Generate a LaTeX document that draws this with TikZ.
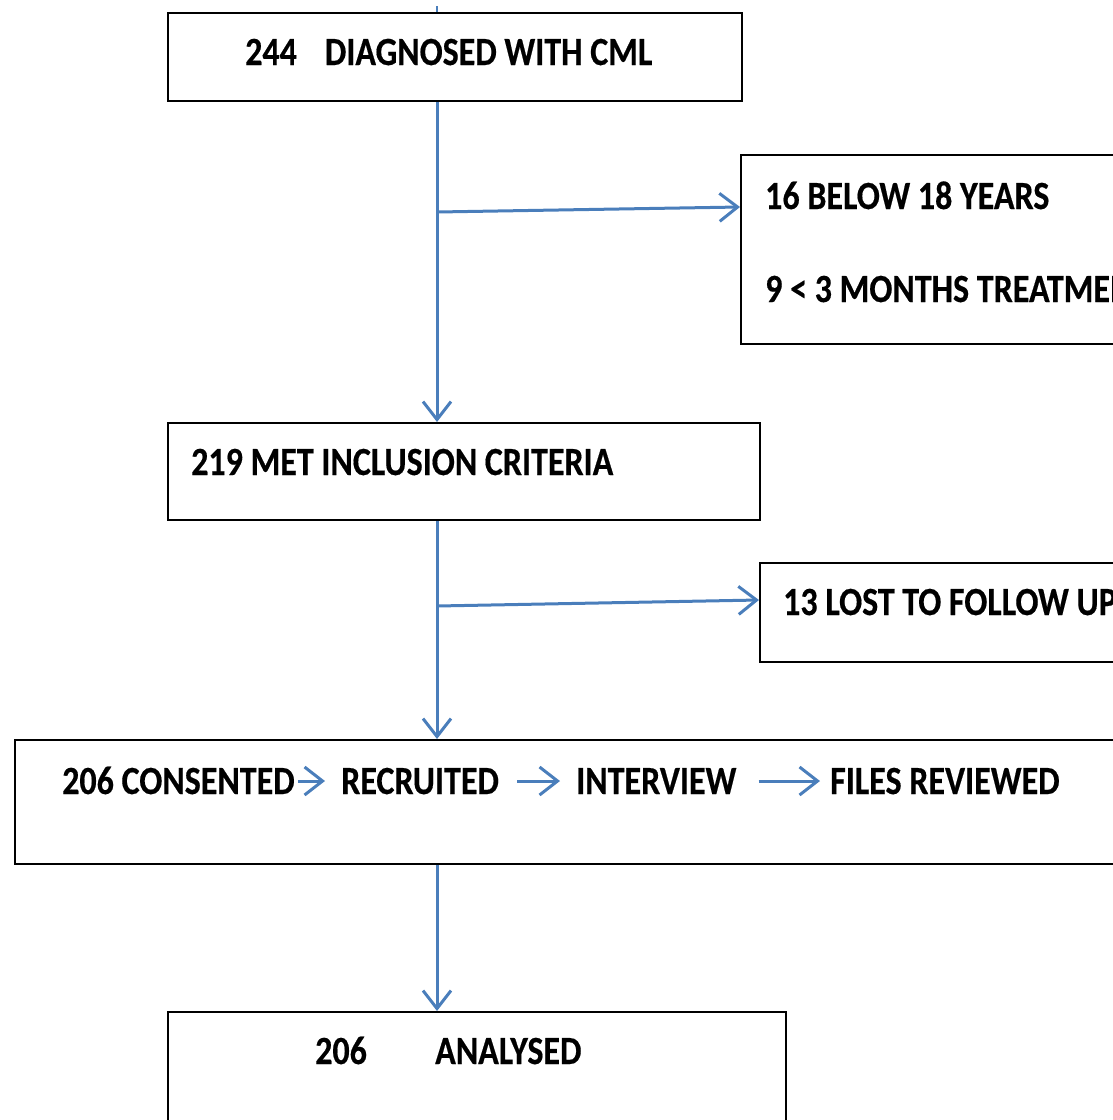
\documentclass[tikz,border=0pt]{standalone}
\usepackage{fontspec}
\setmainfont{Carlito}[FakeStretch=0.85,BoldFeatures={FakeBold=0.4}]
\usetikzlibrary{arrows.meta}
\definecolor{flowblue}{HTML}{4A7EBB}
\begin{document}
\begin{tikzpicture}[x=1pt,y=-1pt,
  box/.style={draw=black,line width=2pt,inner sep=0pt,anchor=north west},
  lbl/.style={anchor=base west,inner sep=0pt,font=\fontsize{40}{48}\selectfont\bfseries},
  flowline/.style={draw=flowblue,line width=3pt},
  flow/.style={flowline,-{Straight Barb[length=18pt,width=28pt]}},
  ]
\useasboundingbox (0,0) rectangle (1113,1120);
\clip (0,0) rectangle (1113,1120);
% boxes
\node[box,minimum width=574pt,minimum height=88pt] (b1) at (167,12) {};
\node[box,minimum width=420pt,minimum height=189pt] (b3) at (740,154) {};
\node[box,minimum width=592pt,minimum height=97pt] (b2) at (167,422) {};
\node[box,minimum width=400pt,minimum height=99pt] (b4) at (759,562) {};
\node[box,minimum width=1150pt,minimum height=124pt] (b5) at (14,739) {};
\node[box,minimum width=618pt,minimum height=150pt] (b6) at (167,1011) {};
% texts
\node[lbl] (t1) at (245,65) {244\hspace{0.7em}DIAGNOSED WITH CML};
\node[lbl] (t3a) at (765,209) {16 BELOW 18 YEARS};
\node[lbl] (t3b) at (765,302) {9 < 3 MONTHS TREATMENT};
\node[lbl] (t2) at (191,475) {219 MET INCLUSION CRITERIA};
\node[lbl] (t4) at (783,615) {13 LOST TO FOLLOW UP};
\node[lbl] (t5a) at (62,794) {206 CONSENTED};
\node[lbl] (t5b) at (341,794) {RECRUITED};
\node[lbl] (t5c) at (576,794) {INTERVIEW};
\node[lbl] (t5d) at (830,794) {FILES REVIEWED};
\node[lbl] (t6a) at (315,1064) {206};
\node[lbl] (t6b) at (435,1064) {ANALYSED};
% connector coordinates
\coordinate (vx) at (437,0);
\coordinate (top) at (437,6);
\coordinate (j1) at (437,212);
\coordinate (j2) at (437,606);
\coordinate (ay) at (0,781);
% vertical connectors
\draw[draw=flowblue,line width=1.5pt] (top) -- (b1.north -| vx);
\draw[flow] (b1.south -| vx) -- (b2.north -| vx);
\draw[flow] (b2.south -| vx) -- (b5.north -| vx);
\draw[flow] (b5.south -| vx) -- (b6.north -| vx);
% side branches
\draw[flow] (j1) -- (b3.west |- 0,207);
\draw[flow] (j2) -- (b4.west |- 0,600);
% inline arrows
\draw[flow,shorten <=3pt,shorten >=16pt] (t5a.east |- ay) -- (t5b.west |- ay);
\draw[flow,shorten <=18pt,shorten >=16pt] (t5b.east |- ay) -- (t5c.west |- ay);
\draw[flow,shorten <=22pt,shorten >=10pt] (t5c.east |- ay) -- (t5d.west |- ay);
\end{tikzpicture}
\end{document}
